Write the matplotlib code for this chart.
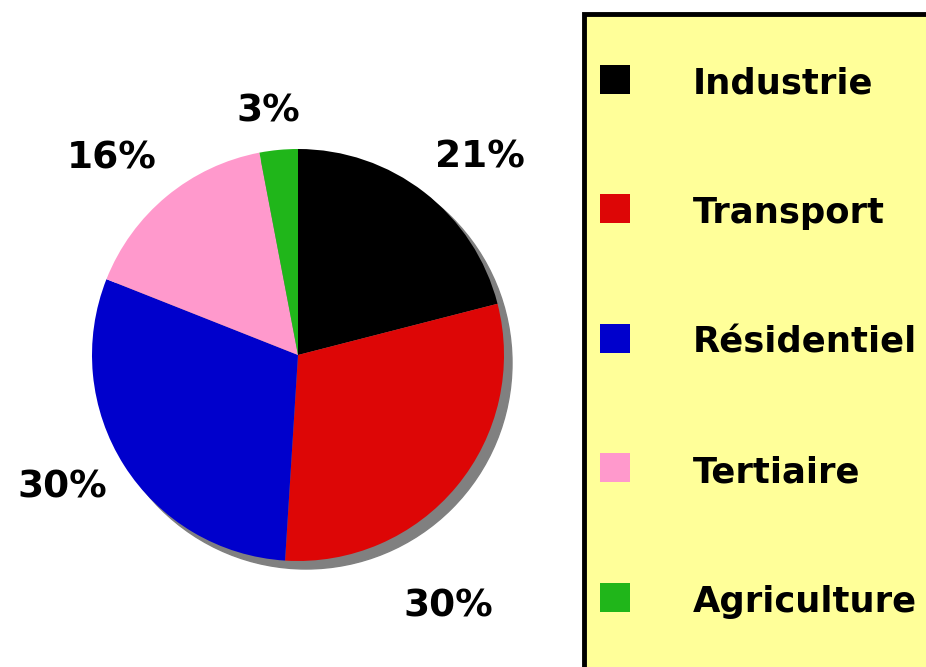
import matplotlib
matplotlib.use("Agg")
import matplotlib.pyplot as plt
from matplotlib.patches import Rectangle, Circle

categories = ["Industrie", "Transport", "Résidentiel", "Tertiaire", "Agriculture"]
values = [21, 30, 30, 16, 3]
pct_labels = ["21%", "30%", "30%", "16%", "3%"]
colors = ["#000000", "#DD0606", "#0000CC", "#FF99CC", "#20B61A"]

W, H = 926, 667
fig = plt.figure(figsize=(W / 100, H / 100), dpi=100)
fig.patch.set_facecolor("white")

cx, cy, R = 298, 355, 206
ax = fig.add_axes([(cx - R) / W, (H - cy - R) / H, 2 * R / W, 2 * R / H])
ax.axis("off")

# shadow
sh = 8 / R
ax.add_patch(Circle((sh, -sh), 1.0, color="#808080", zorder=0, clip_on=False))

wedges, _ = ax.pie(values, colors=colors, startangle=90, counterclock=False,
                   radius=1.0, wedgeprops=dict(linewidth=0))
for w in wedges:
    w.set_zorder(1)
    w.set_clip_on(False)
ax.set_xlim(-1, 1)
ax.set_ylim(-1, 1)
ax.set_aspect("equal")

# label positions (data coords)
label_pos = [(0.883, 0.961), (0.728, -1.223), (-1.146, -0.641), (-0.903, 0.956), (-0.146, 1.180)]
fs = 27
for txt, (x, y) in zip(pct_labels, label_pos):
    ax.text(x, y, txt, ha="center", va="center", fontsize=fs, fontweight="bold",
            family="DejaVu Sans", color="black", clip_on=False)

# legend box
box_l, box_t = 584, 14
fig.add_artist(Rectangle((box_l / W, -0.05), 1.1, (H - box_t) / H + 0.05,
                         transform=fig.transFigure, facecolor="#FFFF99",
                         edgecolor="black", linewidth=3.5))
row0, step = 94, 129.4
lfs = 25.5
for i, (cat, col) in enumerate(zip(categories, colors)):
    yb = row0 + i * step
    fig.add_artist(Rectangle((600 / W, (H - yb) / H), 30 / W, 29 / H,
                             transform=fig.transFigure, facecolor=col, edgecolor="none"))
    fig.text(693 / W, (H - yb) / H, cat, ha="left", va="baseline", fontsize=lfs,
             fontweight="bold", family="DejaVu Sans", color="black")

fig.savefig("out.png", dpi=100)
